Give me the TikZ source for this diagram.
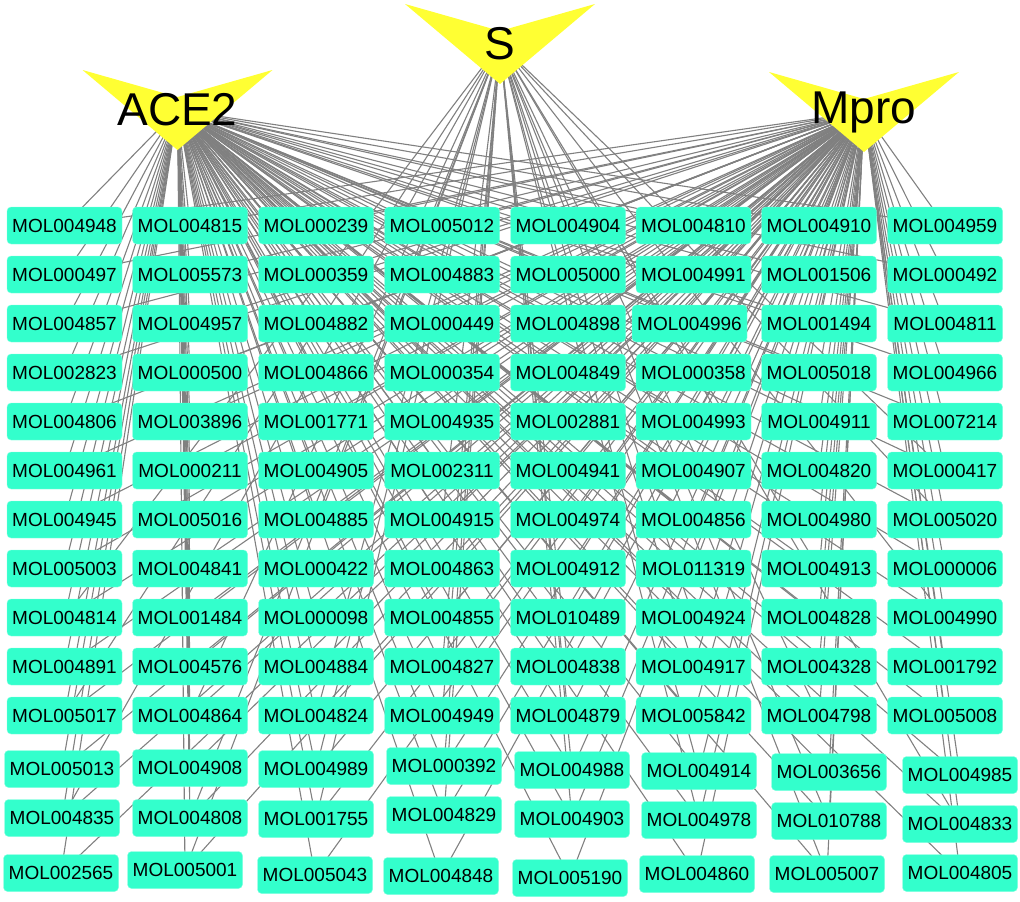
\documentclass[tikz,border=0pt]{standalone}
\usepackage{fontspec}
\setmainfont{Liberation Sans}
\usepackage{xcolor}
\definecolor{mint}{HTML}{33FFCC}
\definecolor{tri}{HTML}{FFFF33}
\definecolor{wire}{HTML}{808080}
\pgfdeclarelayer{background}
\pgfsetlayers{background,main}

\begin{document}
\begin{tikzpicture}[
            x=1pt, y=-1pt,
            mol/.style={draw=mint!60!white, fill=mint, rounded corners=4pt, minimum width=115pt, minimum height=37pt, inner sep=2pt, font=\fontsize{19}{22}\selectfont},
            target/.style={minimum width=190pt, minimum height=80pt, inner sep=0pt, font=\fontsize{46}{50}\selectfont,
                path picture={\fill[tri] (path picture bounding box.north west) -- ([yshift=-27pt]path picture bounding box.north)
                    -- (path picture bounding box.north east) -- (path picture bounding box.south) -- cycle;}},
            link/.style={draw=wire, line width=1.1pt},
        ]
            \useasboundingbox (0,0) rectangle (1020,902);
            \node[target] (ACE2) at (177.5,110) {ACE2};
            \node[target] (S) at (500,44) {S};
            \node[target] (Mpro) at (864,112) {Mpro};
            \foreach \n/\x/\y in {
                MOL004948/64.5/225.5, MOL000497/64.5/274.5, MOL004857/64.5/323.5, MOL002823/64.5/372.5, MOL004806/64.5/421.5, MOL004961/64.5/470.5, MOL004945/64.5/519.5,
                MOL005003/64.5/568.5, MOL004814/64.5/617.5, MOL004891/64.5/666.5, MOL005017/64.5/715.5, MOL005013/62/769, MOL004835/62/818, MOL002565/61/873,
                MOL004815/190/225.5, MOL005573/190/274.5, MOL004957/190/323.5, MOL000500/190/372.5, MOL003896/190/421.5, MOL000211/190/470.5, MOL005016/190/519.5,
                MOL004841/190/568.5, MOL001484/190/617.5, MOL004576/190/666.5, MOL004864/190/715.5, MOL004908/190/768, MOL004808/190/818, MOL005001/185/870,
                MOL000239/316/225.5, MOL000359/316/274.5, MOL004882/316/323.5, MOL004866/316/372.5, MOL001771/316/421.5, MOL004905/316/470.5, MOL004885/316/519.5,
                MOL000422/316/568.5, MOL000098/316/617.5, MOL004884/316/666.5, MOL004824/316/715.5, MOL004989/316/769, MOL001755/316/819, MOL005043/315/875,
                MOL005012/442/225.5, MOL004883/442/274.5, MOL000449/442/323.5, MOL000354/442/372.5, MOL004935/442/421.5, MOL002311/442/470.5, MOL004915/442/519.5,
                MOL004863/442/568.5, MOL004855/442/617.5, MOL004827/442/666.5, MOL004949/442/715.5, MOL000392/444/766, MOL004829/444/815, MOL004848/441/876,
                MOL004904/568/225.5, MOL005000/568/274.5, MOL004898/568/323.5, MOL004849/568/372.5, MOL002881/568/421.5, MOL004941/568/470.5, MOL004974/568/519.5,
                MOL004912/568/568.5, MOL010489/568/617.5, MOL004838/568/666.5, MOL004879/568/715.5, MOL004988/572/770, MOL004903/572/819, MOL005190/570/878,
                MOL004810/693.5/225.5, MOL004991/693.5/274.5, MOL004996/689.5/323.5, MOL000358/693.5/372.5, MOL004993/693.5/421.5, MOL004907/693.5/470.5, MOL004856/693.5/519.5,
                MOL011319/693.5/568.5, MOL004924/693.5/617.5, MOL004917/693.5/666.5, MOL005842/693.5/715.5, MOL004914/699/771, MOL004978/699/820, MOL004860/697/874,
                MOL004910/819/225.5, MOL001506/819/274.5, MOL001494/819/323.5, MOL005018/819/372.5, MOL004911/819/421.5, MOL004820/819/470.5, MOL004980/819/519.5,
                MOL004913/819/568.5, MOL004828/819/617.5, MOL004328/819/666.5, MOL004798/819/715.5, MOL003656/829/772, MOL010788/829/821, MOL005007/827/874,
                MOL004959/945/225.5, MOL000492/945/274.5, MOL004811/945/323.5, MOL004966/945/372.5, MOL007214/945/421.5, MOL000417/945/470.5, MOL005020/945/519.5,
                MOL000006/945/568.5, MOL004990/945/617.5, MOL001792/945/666.5, MOL005008/945/715.5, MOL004985/960/775, MOL004833/960/824, MOL004805/960/873} {
                \node[mol] (\n) at (\x,\y) {\n};
                \begin{pgfonlayer}{background}
                    \draw[link] (ACE2.center) -- (\n.center);
                    \draw[link] (Mpro.center) -- (\n.center);
                \end{pgfonlayer}
            }
            \begin{pgfonlayer}{background}
                \foreach \n in {MOL004814, MOL005017, MOL004835, MOL005001, MOL004808, MOL004864, MOL004885, MOL004824, MOL004989, MOL001755,
                    MOL004915, MOL004827, MOL004949, MOL000392, MOL004829, MOL004838, MOL004879, MOL004988, MOL004903, MOL004924, MOL004917,
                    MOL004914, MOL004978, MOL005007, MOL010788, MOL004798, MOL004913, MOL004833, MOL004990, MOL005020, MOL000417}
                    \draw[link] (S.center) -- (\n.center);
            \end{pgfonlayer}
        \end{tikzpicture}
\end{document}
